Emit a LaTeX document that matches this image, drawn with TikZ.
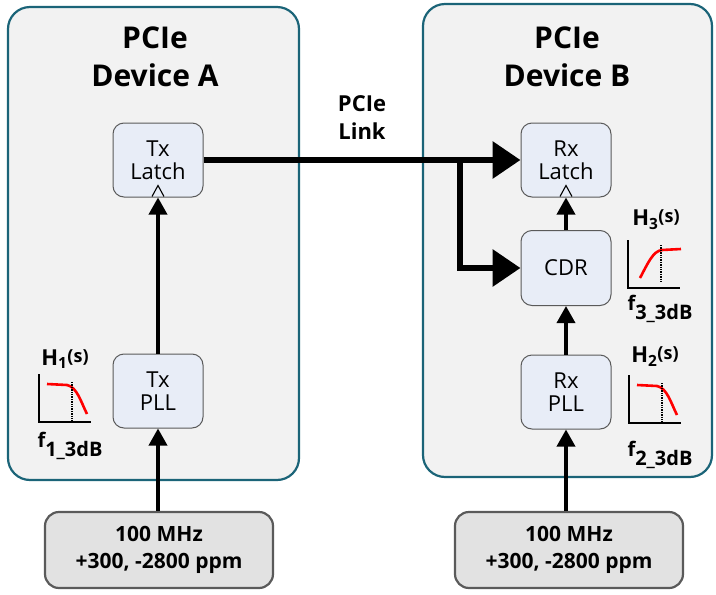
\documentclass[tikz,border=0pt]{standalone}
\usepackage{fontspec}
\setmainfont{Open Sans}
\usetikzlibrary{arrows.meta}
\definecolor{devedge}{HTML}{1B6478}
\definecolor{devfill}{HTML}{F2F2F2}
\definecolor{blkedge}{HTML}{5A5A5A}
\definecolor{blkfill}{HTML}{E8EDF7}
\definecolor{clkfill}{HTML}{E2E2E2}

\begin{document}
\begin{tikzpicture}[x=1pt,y=-1pt,
 devbox/.style={draw=devedge, fill=devfill, line width=2.2, rounded corners=22},
 title/.style={font=\bfseries\fontsize{30}{38}\selectfont, align=center},
 blk/.style={draw=blkedge, fill=blkfill, line width=1, rounded corners=11, minimum width=90, minimum height=74, inner sep=0, align=center, font=\fontsize{22}{23}\selectfont},
 clk/.style={draw=blkedge, fill=clkfill, line width=2.2, rounded corners=14, minimum width=228, minimum height=76, inner sep=0, align=center, font=\bfseries\fontsize{21}{27}\selectfont},
 link/.style={line width=6.5, -{Triangle[length=28pt,width=36pt]}},
 sig/.style={line width=3.5, -{Triangle[length=17pt,width=18pt]}},
 lbl/.style={font=\bfseries\fontsize{20}{20}\selectfont, inner sep=0}]
\useasboundingbox (0,0) rectangle (716,595);

\node[devbox, minimum width=291, minimum height=473] (devA) at (153.5,243.5) {};
\node[devbox, minimum width=289, minimum height=473] (devB) at (567.5,240.5) {};
\node[title] (ttlA) at (155,57) {PCIe\\Device A};
\node[title] (ttlB) at (567,57) {PCIe\\Device B};
\node[title, font=\bfseries\fontsize{22}{28}\selectfont] (lnk) at (362,118) {PCIe\\Link};

\node[blk] (txl) at (158,160) {Tx\\Latch};
\node[blk] (txp) at (158,391) {Tx\\PLL};
\node[blk] (rxl) at (566,160) {Rx\\Latch};
\node[blk, minimum height=75] (cdr) at (566,268) {CDR};
\node[blk] (rxp) at (566,392) {Rx\\PLL};

\node[clk] (clkA) at (159,550) {100 MHz\\+300, -2800 ppm};
\node[clk] (clkB) at (569,550) {100 MHz\\+300, -2800 ppm};

% clock input marks
\foreach \n in {txl,rxl}
 \draw[line width=1.1] (\n.south) ++(-6,-1) -- ++(6,-11) -- ++(6,11);

\draw[link] (txl.east) -- (rxl.west);
\coordinate (br) at (460,160);
\draw[link, line join=miter] (br) |- (cdr.west);

\draw[sig] (clkA.north -| txp.south) -- (txp.south);
\draw[sig] (txp.north) -- (txl.south);
\draw[sig] (clkB.north -| rxp.south) -- (rxp.south);
\draw[sig] (rxp.north) -- (cdr.south);
\draw[sig] (cdr.north) -- (rxl.south);

% filter responses
\foreach \px/\py in {39/422, 629/423}{
 \draw[line width=2.6] (\px,\py-48) -- (\px,\py) -- (\px+52,\py);
 \draw[red, line width=2.6] (\px+8,\py-38) -- (\px+28,\py-37) .. controls (\px+38,\py-35) and (\px+42,\py-20) .. (\px+48,\py-8);
 \draw[densely dotted, line width=1.4] (\px+33,\py-40) -- (\px+33,\py);
}
\draw[line width=2.6] (628,240) -- (628,288) -- (680,288);
\draw[red, line width=2.6] (640,278) .. controls (648,263) and (653,251) .. (662,250) -- (681,249);
\draw[densely dotted, line width=1.4] (661,245) -- (661,283);

\node[lbl] (h1) at (65,359) {\fontsize{22}{22}\selectfont H\textsubscript{1}\raisebox{3pt}{\fontsize{18}{18}\selectfont(s)}};
\node[lbl] (f1) at (70,446) {f\raisebox{-9pt}{1\_3dB}};
\node[lbl] (h2) at (655,357) {\fontsize{22}{22}\selectfont H\textsubscript{2}\raisebox{3pt}{\fontsize{18}{18}\selectfont(s)}};
\node[lbl] (f2) at (660,455) {f\raisebox{-9pt}{2\_3dB}};
\node[lbl] (h3) at (656,220) {\fontsize{22}{22}\selectfont H\textsubscript{3}\raisebox{3pt}{\fontsize{18}{18}\selectfont(s)}};
\node[lbl] (f3) at (660,309) {f\raisebox{-9pt}{3\_3dB}};
\end{tikzpicture}
\end{document}
